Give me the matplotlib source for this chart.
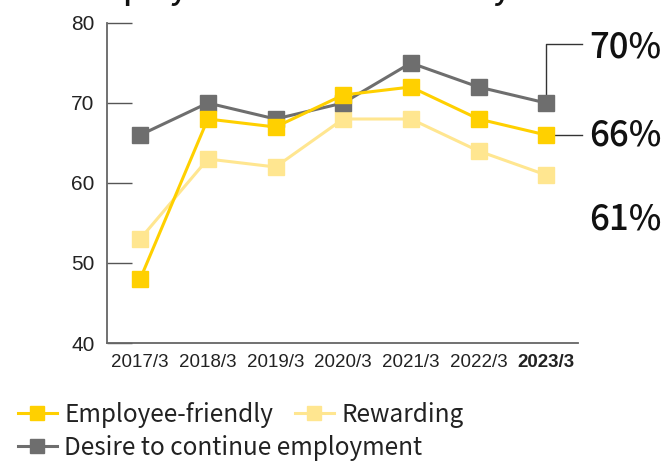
import matplotlib
matplotlib.use('Agg')
import matplotlib.pyplot as plt
from matplotlib.lines import Line2D

# data
years = ['2017/3', '2018/3', '2019/3', '2020/3', '2021/3', '2022/3', '2023/3']
employee_friendly = [48, 68, 67, 71, 72, 68, 66]
rewarding = [53, 63, 62, 68, 68, 64, 61]
desire_continue = [66, 70, 68, 70, 75, 72, 70]

c_yellow = '#FFD000'
c_light = '#FFE690'
c_gray = '#6E6E6E'

label_font = ['Noto Sans CJK JP', 'DejaVu Sans']
tick_font = ['Liberation Sans Narrow', 'Liberation Sans', 'DejaVu Sans']

fig = plt.figure(figsize=(6.65, 4.61), dpi=100)
ax = fig.add_axes([107 / 665, 1 - 343 / 461, (578 - 107) / 665, 320 / 461])

x = list(range(len(years)))
ms = 12
lw = 2.2
ax.plot(x, rewarding, color=c_light, lw=lw, marker='s', ms=ms, zorder=3, clip_on=False)
ax.plot(x, desire_continue, color=c_gray, lw=lw, marker='s', ms=ms, zorder=4, clip_on=False)
ax.plot(x, employee_friendly, color=c_yellow, lw=lw, marker='s', ms=ms, zorder=5, clip_on=False)

ax.set_ylim(40, 80)
ax.set_yticks([40, 50, 60, 70, 80])
ax.set_xlim(-0.49, 6.47)
ax.set_xticks(x)
ax.set_xticklabels(years, family=tick_font, fontsize=13.5, color='#222222')
ax.get_xticklabels()[-1].set_fontweight('bold')
for lab in ax.get_yticklabels():
    lab.set_family(tick_font)
    lab.set_fontsize(15)
    lab.set_color('#222222')

ax.tick_params(axis='y', direction='in', length=18, width=1, color='#555555', pad=9)
ax.tick_params(axis='x', length=0, pad=8)
for side in ['top', 'right']:
    ax.spines[side].set_visible(False)
for side in ['left', 'bottom']:
    ax.spines[side].set_color('#666666')
    ax.spines[side].set_linewidth(1.3)

# end value call-outs
x_end = 6.53
ax.plot([x[-1], x[-1], x_end], [desire_continue[-1], 77.4, 77.4], color='#333333', lw=1, zorder=2, clip_on=False)
ax.plot([x[-1], x_end], [employee_friendly[-1], employee_friendly[-1]], color='#333333', lw=1, zorder=2, clip_on=False)
for val, ypos in [(desire_continue[-1], 77.0), (employee_friendly[-1], employee_friendly[-1]), (rewarding[-1], 55.4)]:
    ax.text(6.64, ypos, f'{val}%', fontsize=25, family=label_font, weight='medium',
            va='center', ha='left', color='#111111')

# title mostly cut off at the top of the image
fig.text(76 / 665, 1 + 1.5 / 461, 'Employee Satisfaction Survey', fontsize=22, family=label_font,
         weight='medium', va='baseline', ha='left', color='#111111')

# legend in two rows
def handle(c):
    return Line2D([], [], color=c, lw=lw, marker='s', ms=10)

leg_kw = dict(frameon=False, handlelength=1.6, handletextpad=0.3, borderpad=0, borderaxespad=0,
              columnspacing=0.9, prop={'family': label_font, 'size': 17.5})
leg1 = fig.legend([handle(c_yellow), handle(c_light)], ['Employee-friendly', 'Rewarding'],
                  loc='center left', bbox_to_anchor=(18 / 665, 1 - 415 / 461), ncol=2, **leg_kw)
leg2 = fig.legend([handle(c_gray)], ['Desire to continue employment'],
                  loc='center left', bbox_to_anchor=(18 / 665, 1 - 448 / 461), **leg_kw)
for leg in (leg1, leg2):
    for t in leg.get_texts():
        t.set_color('#222222')

fig.savefig('out.png', dpi=100)
